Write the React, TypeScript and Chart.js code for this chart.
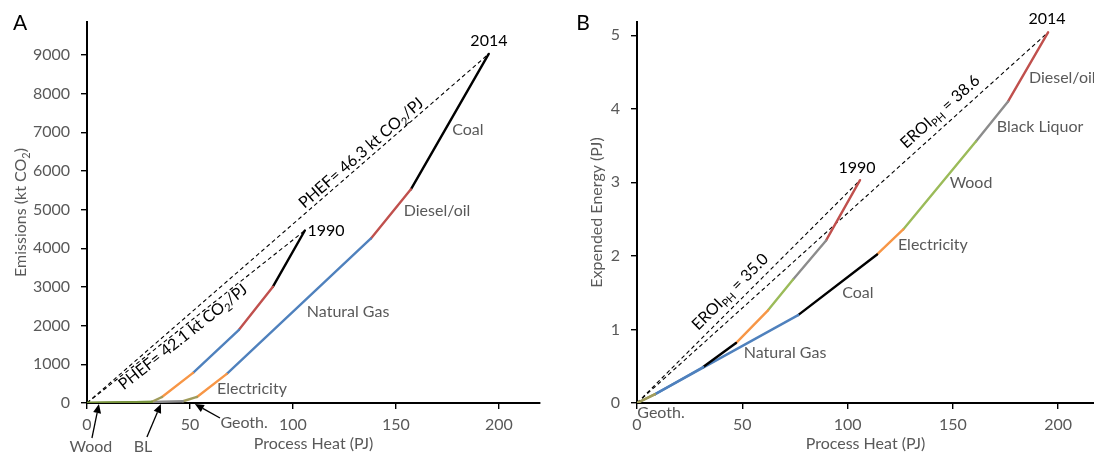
import React, { useEffect, useRef } from 'react';
import { Chart, registerables } from 'chart.js';
Chart.register(...registerables);

// ---------- Panel A: process heat (PJ) vs emissions (kt CO2) ----------
const A_1990_HEAT = [0, 31.5, 36.4, 51.5, 73.8, 90.3, 105.8];
const A_1990_EMIS = [0, 30, 156, 778, 1893, 3008, 4460];
const A_1990_FUEL = ['Wood', 'Geoth', 'Electricity', 'Natural Gas', 'Diesel/oil', 'Coal'];

const A_2014_HEAT = [0, 31.5, 46.6, 53.4, 67.9, 137.9, 157.3, 195.1];
const A_2014_EMIS = [0, 25, 45, 156, 752, 4253, 5524, 9025];
const A_2014_FUEL = ['Wood', 'BL', 'Geoth', 'Electricity', 'Natural Gas', 'Diesel/oil', 'Coal'];

const A_X_TICKS = [0, 50, 100, 150, 200];
const A_Y_TICKS = [0, 1000, 2000, 3000, 4000, 5000, 6000, 7000, 8000, 9000];

// ---------- Panel B: process heat (PJ) vs expended energy (PJ) ----------
const B_FUEL = ['Geoth', 'Natural Gas', 'Coal', 'Electricity', 'Wood', 'BL', 'Diesel/oil'];
const B_1990_HEAT = [0, 8.6, 31.4, 47.0, 62.2, 74.1, 89.8, 105.9];
const B_1990_ENERGY = [0, 0.12, 0.49, 0.815, 1.26, 1.68, 2.21, 3.03];
const B_2014_HEAT = [0, 8.6, 76.5, 114, 126.4, 161, 176.2, 195.2];
const B_2014_ENERGY = [0, 0.12, 1.195, 2.02, 2.36, 3.56, 4.1, 5.04];

const B_X_TICKS = [0, 50, 100, 150, 200];
const B_Y_TICKS = [0, 1, 2, 3, 4, 5];

const FONT = 'Lato, "Open Sans", sans-serif';
const GREY = '#595959';

const COLORS_A: Record<string, string> = {
  Wood: '#77933c', BL: '#8c8c8c', Geoth: '#a09c5c', Electricity: '#f79646',
  'Natural Gas': '#4f81bd', 'Diesel/oil': '#c0504d', Coal: '#000000',
};
const COLORS_B: Record<string, string> = {
  ...COLORS_A, Wood: '#9bbb59',
};

type Part = { t: string; sub?: boolean };
type Note = { parts: Part[]; x: number; y: number; color: string; size: number; align?: CanvasTextAlign; along?: number };
type Path = { heat: number[]; val: number[]; fuel: string[] };
type Arrow = { from: [number, number]; to: [number, number] };
interface PanelCfg {
  letter: string; letterPos: [number, number];
  yTitle: Part[]; yTitleX: number; xTitle: string;
  xMax: number; yMax: number; xTicks: number[]; yTicks: number[];
  yAxisWidth: number; padRight: number;
  paths: Path[]; colors: Record<string, string>;
  notes: Note[]; arrows: Arrow[];
}

const t = (s: string): Part[] => [{ t: s }];
const FS = 16;

const PANEL_A: PanelCfg = {
  letter: 'A', letterPos: [20, 23],
  yTitle: [{ t: 'Emissions (kt CO' }, { t: '2', sub: true }, { t: ')' }], yTitleX: 21,
  xTitle: 'Process Heat (PJ)',
  xMax: 220, yMax: 9850, xTicks: A_X_TICKS, yTicks: A_Y_TICKS,
  yAxisWidth: 87, padRight: 7,
  paths: [
    { heat: A_1990_HEAT, val: A_1990_EMIS, fuel: A_1990_FUEL },
    { heat: A_2014_HEAT, val: A_2014_EMIS, fuel: A_2014_FUEL },
  ],
  colors: COLORS_A,
  notes: [
    { parts: t('2014'), x: 195.2, y: 9359, color: '#000', size: FS },
    { parts: t('1990'), x: 116.1, y: 4447, color: '#000', size: FS },
    { parts: t('Coal'), x: 185.0, y: 7058, color: GREY, size: FS },
    { parts: t('Diesel/oil'), x: 170.0, y: 4964, color: GREY, size: FS },
    { parts: t('Natural Gas'), x: 126.8, y: 2353, color: GREY, size: FS },
    { parts: t('Electricity'), x: 80.1, y: 362, color: GREY, size: FS },
    { parts: t('Geoth.'), x: 76.3, y: -517, color: GREY, size: FS },
    { parts: t('Wood'), x: 1.9, y: -1138, color: GREY, size: FS },
    { parts: t('BL'), x: 27.2, y: -1138, color: GREY, size: FS },
    { parts: [{ t: 'PHEF= 46.3 kt CO' }, { t: '2', sub: true }, { t: '/PJ' }], x: 133.1, y: 6463, color: '#000', size: 16, along: 1 },
    { parts: [{ t: 'PHEF= 42.1 kt CO' }, { t: '2', sub: true }, { t: '/PJ' }], x: 46.6, y: 1706, color: '#000', size: 16, along: 0 },
  ],
  arrows: [
    { from: [2.4, -905], to: [5.8, -26] },
    { from: [29.1, -879], to: [35.9, -26] },
    { from: [64.6, -388], to: [52.4, -26] },
  ],
};

const PANEL_B: PanelCfg = {
  letter: 'B', letterPos: [36, 23],
  yTitle: t('Expended Energy (PJ)'), yTitleX: 50,
  xTitle: 'Process Heat (PJ)',
  xMax: 217, yMax: 5.18, xTicks: B_X_TICKS, yTicks: B_Y_TICKS,
  yAxisWidth: 90, padRight: 0,
  paths: [
    { heat: B_1990_HEAT, val: B_1990_ENERGY, fuel: B_FUEL },
    { heat: B_2014_HEAT, val: B_2014_ENERGY, fuel: B_FUEL },
  ],
  colors: COLORS_B,
  notes: [
    { parts: t('2014'), x: 194.7, y: 5.22, color: '#000', size: FS },
    { parts: t('1990'), x: 104.5, y: 3.195, color: '#000', size: FS },
    { parts: t('Diesel/oil'), x: 186.1, y: 4.42, color: GREY, size: FS, align: 'left' },
    { parts: t('Black Liquor'), x: 191.4, y: 3.75, color: GREY, size: FS },
    { parts: t('Wood'), x: 158.6, y: 2.99, color: GREY, size: FS },
    { parts: t('Electricity'), x: 140.5, y: 2.15, color: GREY, size: FS },
    { parts: t('Coal'), x: 104.9, y: 1.5, color: GREY, size: FS },
    { parts: t('Natural Gas'), x: 70.3, y: 0.68, color: GREY, size: FS },
    { parts: t('Geoth.'), x: 11.4, y: -0.136, color: GREY, size: FS },
    { parts: [{ t: 'EROI' }, { t: 'PH', sub: true }, { t: ' = 38.6' }], x: 143.9, y: 3.96, color: '#000', size: 16, along: 1 },
    { parts: [{ t: 'EROI' }, { t: 'PH', sub: true }, { t: ' = 35.0' }], x: 44.2, y: 1.51, color: '#000', size: 16, along: 0 },
  ],
  arrows: [],
};

function drawRich(ctx: CanvasRenderingContext2D, parts: Part[], cx: number, cy: number, angle: number, size: number, color: string, align: CanvasTextAlign = 'center') {
  ctx.save();
  ctx.translate(cx, cy);
  ctx.rotate(angle);
  const main = `${size}px ${FONT}`;
  const sub = `${Math.round(size * 0.68)}px ${FONT}`;
  let w = 0;
  for (const p of parts) { ctx.font = p.sub ? sub : main; w += ctx.measureText(p.t).width; }
  let x = align === 'left' ? 0 : align === 'right' ? -w : -w / 2;
  ctx.fillStyle = color;
  ctx.textBaseline = 'middle';
  ctx.textAlign = 'left';
  for (const p of parts) {
    ctx.font = p.sub ? sub : main;
    ctx.fillText(p.t, x, p.sub ? size * 0.32 : 0);
    x += ctx.measureText(p.t).width;
  }
  ctx.restore();
}

function drawArrow(ctx: CanvasRenderingContext2D, x1: number, y1: number, x2: number, y2: number) {
  const a = Math.atan2(y2 - y1, x2 - x1);
  const len = 9, half = 4;
  const bx = x2 - len * Math.cos(a), by = y2 - len * Math.sin(a);
  ctx.save();
  ctx.strokeStyle = '#000';
  ctx.fillStyle = '#000';
  ctx.lineWidth = 1.3;
  ctx.beginPath();
  ctx.moveTo(x1, y1);
  ctx.lineTo(bx, by);
  ctx.stroke();
  ctx.beginPath();
  ctx.moveTo(x2, y2);
  ctx.lineTo(bx + half * Math.sin(a), by - half * Math.cos(a));
  ctx.lineTo(bx - half * Math.sin(a), by + half * Math.cos(a));
  ctx.closePath();
  ctx.fill();
  ctx.restore();
}

function Panel({ cfg }: { cfg: PanelCfg }) {
  const ref = useRef<HTMLCanvasElement>(null);
  useEffect(() => {
    const pathSets = cfg.paths.flatMap((p) =>
      p.fuel.map((f, i) => ({
        data: [{ x: p.heat[i], y: p.val[i] }, { x: p.heat[i + 1], y: p.val[i + 1] }],
        borderColor: cfg.colors[f],
        borderWidth: 2.4,
        showLine: true,
        pointRadius: 0,
        borderCapStyle: 'round' as const,
      }))
    );
    const dashSets = cfg.paths.map((p) => ({
      data: [{ x: 0, y: 0 }, { x: p.heat[p.heat.length - 1], y: p.val[p.val.length - 1] }],
      borderColor: '#000',
      borderWidth: 1.1,
      borderDash: [4, 3],
      showLine: true,
      pointRadius: 0,
    }));

    const annot = {
      id: 'annot',
      afterDraw(chart: any) {
        const ctx: CanvasRenderingContext2D = chart.ctx;
        const xs = chart.scales.x, ys = chart.scales.y;
        const area = chart.chartArea;
        const px = (v: number) => xs.getPixelForValue(v);
        const py = (v: number) => ys.getPixelForValue(v);
        drawRich(ctx, t(cfg.letter), cfg.letterPos[0], cfg.letterPos[1], 0, 21, '#000');
        drawRich(ctx, cfg.yTitle, cfg.yTitleX, (area.top + area.bottom) / 2, -Math.PI / 2, FS, GREY);
        drawRich(ctx, t(cfg.xTitle), (area.left + area.right) / 2, 444, 0, FS, GREY);
        for (const n of cfg.notes) {
          let ang = 0;
          if (n.along !== undefined) {
            const p = cfg.paths[n.along];
            const ex = p.heat[p.heat.length - 1], ey = p.val[p.val.length - 1];
            ang = Math.atan2(py(ey) - py(0), px(ex) - px(0));
          }
          drawRich(ctx, n.parts, px(n.x), py(n.y), ang, n.size, n.color, n.align || 'center');
        }
        for (const a of cfg.arrows) {
          drawArrow(ctx, px(a.from[0]), py(a.from[1]), px(a.to[0]), py(a.to[1]));
        }
      },
    };

    const tickFont = { family: FONT, size: FS };
    const chart = new Chart(ref.current!, {
      type: 'scatter',
      data: { datasets: [...pathSets, ...dashSets] as any },
      options: {
        animation: false,
        responsive: false,
        events: [],
        layout: { padding: { left: 0, right: cfg.padRight, top: 22, bottom: 0 } },
        plugins: { legend: { display: false }, tooltip: { enabled: false } },
        scales: {
          x: {
            type: 'linear', min: 0, max: cfg.xMax,
            afterBuildTicks: (s: any) => { s.ticks = cfg.xTicks.map((v) => ({ value: v })); },
            afterFit: (s: any) => { s.height = 53; },
            ticks: { includeBounds: false, color: GREY, font: tickFont, padding: 6, maxRotation: 0, autoSkip: false, callback: (v: any) => String(v) },
            grid: { display: true, drawOnChartArea: false, drawTicks: true, tickLength: 6, color: '#000', lineWidth: 1.4 },
            border: { display: true, color: '#000', width: 2 },
          },
          y: {
            type: 'linear', min: 0, max: cfg.yMax,
            afterBuildTicks: (s: any) => { s.ticks = cfg.yTicks.map((v) => ({ value: v })); },
            afterFit: (s: any) => { s.width = cfg.yAxisWidth; },
            ticks: { includeBounds: false, color: GREY, font: tickFont, padding: 11, autoSkip: false, callback: (v: any) => String(v) },
            grid: { display: true, drawOnChartArea: false, drawTicks: true, tickLength: 6, color: '#000', lineWidth: 1.4 },
            border: { display: true, color: '#000', width: 2 },
          },
        },
      } as any,
      plugins: [annot],
    });
    return () => chart.destroy();
  }, []);
  return <canvas ref={ref} width={547} height={456} style={{ display: 'block' }} />;
}

export default function App() {
  return (
    <div style={{ position: 'absolute', left: 0, top: 0, width: 1094, height: 456, display: 'flex', background: '#fff', overflow: 'hidden' }}>
      <Panel cfg={PANEL_A} />
      <Panel cfg={PANEL_B} />
    </div>
  );
}
